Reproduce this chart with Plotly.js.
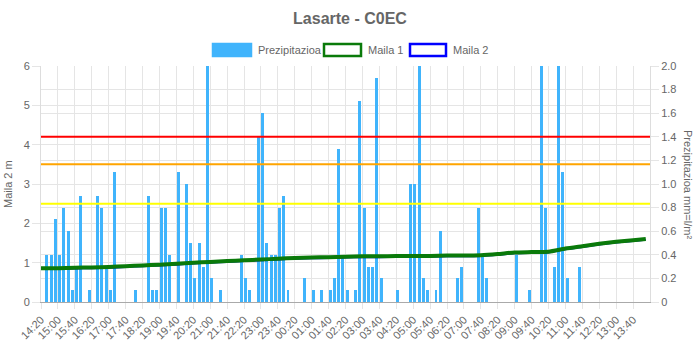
<!DOCTYPE html>
<html>
<head>
<meta charset="utf-8">
<script src="https://cdn.plot.ly/plotly-3.0.1.min.js"></script>
<style>
html,body{margin:0;padding:0;background:#fff;}
#chart{width:700px;height:350px;}
</style>
</head>
<body>
<div id="chart"></div>
<script>
// 10-minute time slots (categories)
const times = [
  "14:20","14:30","14:40","14:50",
  "15:00","15:10","15:20","15:30","15:40","15:50",
  "16:00","16:10","16:20","16:30","16:40","16:50",
  "17:00","17:10","17:20","17:30","17:40","17:50",
  "18:00","18:10","18:20","18:30","18:40","18:50",
  "19:00","19:10","19:20","19:30","19:40","19:50",
  "20:00","20:10","20:20","20:30","20:40","20:50",
  "21:00","21:10","21:20","21:30","21:40","21:50",
  "22:00","22:10","22:20","22:30","22:40","22:50",
  "23:00","23:10","23:20","23:30","23:40","23:50",
  "00:00","00:10","00:20","00:30","00:40","00:50",
  "01:00","01:10","01:20","01:30","01:40","01:50",
  "02:00","02:10","02:20","02:30","02:40","02:50",
  "03:00","03:10","03:20","03:30","03:40","03:50",
  "04:00","04:10","04:20","04:30","04:40","04:50",
  "05:00","05:10","05:20","05:30","05:40","05:50",
  "06:00","06:10","06:20","06:30","06:40","06:50",
  "07:00","07:10","07:20","07:30","07:40","07:50",
  "08:00","08:10","08:20","08:30","08:40","08:50",
  "09:00","09:10","09:20","09:30","09:40","09:50",
  "10:00","10:10","10:20","10:30","10:40","10:50",
  "11:00","11:10","11:20","11:30","11:40","11:50",
  "12:00","12:10","12:20","12:30","12:40","12:50",
  "13:00","13:10","13:20","13:30","13:40","13:50",
  "14:00","14:10"
];

// Prezipitazioa (mm) per slot
const precipitation = [
  0,0.4,0.4,0.7,
  0.4,0.8,0.6,0.1,0.3,0.9,
  0,0.1,0,0.9,0.8,0.3,
  0.1,1.1,0,0,0,0,
  0.1,0,0,0.9,0.1,0.1,
  0.8,0.8,0.4,0,1.1,0,
  1.0,0.5,0.2,0.5,0.3,2.0,
  0.2,0,0.1,0,0,0,
  0,0.4,0.2,0.1,0,1.4,
  1.6,0.5,0.4,0.4,0.8,0.9,
  0.1,0,0,0,0.2,0,
  0.1,0,0.1,0,0.1,0.2,
  1.3,0.4,0.1,0,0.1,1.7,
  0.8,0.3,0.3,1.9,0.2,0,
  0,0,0.1,0,0,1.0,
  1.0,2.0,0.2,0.1,0,0.1,
  0.6,0,0,0,0.2,0.3,
  0,0,0,0.8,0.4,0.2,
  0,0,0,0,0,0,
  0.4,0,0,0.1,0,0,
  2.0,0.8,0,0.3,2.0,1.1,
  0.2,0,0,0.3,0,0,
  0,0,0,0,0,0,
  0,0,0,0,0,0,
  0,0
];

// Water level (m) readings
const mailaTimes = [
  "14:20","15:00","15:40","16:20","17:00","17:40","18:20","19:00","19:40",
  "20:20","21:00","21:40","22:20","23:00","23:40","00:20","01:00","01:40",
  "02:20","03:00","03:40","04:20","05:00","05:40","06:20","07:00","07:40",
  "08:20","09:00","09:40","10:20","11:00","11:40","12:20","13:00","13:40","14:10"
];
const maila1 = [
  0.86,0.86,0.87,0.88,0.89,0.91,0.93,0.95,0.97,
  1.00,1.02,1.04,1.06,1.08,1.10,1.12,1.13,1.14,
  1.15,1.16,1.16,1.17,1.17,1.17,1.18,1.18,1.19,
  1.22,1.26,1.27,1.28,1.36,1.42,1.48,1.53,1.57,1.60
];
const maila2 = [
  0.84,0.84,0.85,0.86,0.87,0.89,0.91,0.93,0.95,
  0.98,1.00,1.02,1.04,1.06,1.08,1.10,1.11,1.12,
  1.13,1.14,1.14,1.15,1.15,1.15,1.16,1.16,1.17,
  1.20,1.24,1.25,1.26,1.34,1.40,1.46,1.51,1.55,1.58
];

const tickLabels = [
  "14:20","15:00","15:40","16:20","17:00","17:40","18:20","19:00","19:40",
  "20:20","21:00","21:40","22:20","23:00","23:40","00:20","01:00","01:40",
  "02:20","03:00","03:40","04:20","05:00","05:40","06:20","07:00","07:40",
  "08:20","09:00","09:40","10:20","11:00","11:40","12:20","13:00","13:40"
];
const precipTicks = [0,0.2,0.4,0.6,0.8,1.0,1.2,1.4,1.6,1.8,2.0];
const precipTickText = ["0","0.2","0.4","0.6","0.8","1.0","1.2","1.4","1.6","1.8","2.0"];

const thresholds = [4.2, 3.5, 2.5];
const thresholdColors = ["#ff0000", "#ffa500", "#ffff00"];

const seriesNames = ["Prezipitazioa", "Maila 1", "Maila 2"];
const barColor = "#40b4fc";

const FONT = "Liberation Sans, Arial, Helvetica, sans-serif";
const GREY = "#666";
const GRID = "#e5e5e5";

const traces = [
  {
    type: "bar", name: seriesNames[0], x: times, y: precipitation,
    xaxis: "x", yaxis: "y",
    marker: {color: barColor, line: {width: 0}},
    offset: 0.05, width: 0.7,
    showlegend: false, hoverinfo: "skip"
  },
  {
    type: "scatter", mode: "lines", name: seriesNames[2], x: mailaTimes, y: maila2,
    xaxis: "x", yaxis: "y2",
    line: {color: "#0000ff", width: 2, shape: "spline", smoothing: 0.6},
    showlegend: false, hoverinfo: "skip"
  },
  {
    type: "scatter", mode: "lines", name: seriesNames[1], x: mailaTimes, y: maila1,
    xaxis: "x", yaxis: "y2",
    line: {color: "#0a7a0a", width: 4, shape: "spline", smoothing: 0.6},
    showlegend: false, hoverinfo: "skip"
  }
];

// plot area in pixels (for legend placement in paper coords)
const L = 41, R = 650, T = 66, B = 302;
const px = v => (v - L) / (R - L);
const py = v => (B - v) / (B - T);

const shapes = thresholds.map((t, i) => ({
  type: "line", xref: "paper", x0: 0, x1: 1, yref: "y2", y0: t, y1: t,
  line: {color: thresholdColors[i], width: 2}, layer: "above"
}));

// custom legend boxes (Chart.js-like)
const legendBoxes = [
  {x0: 213, x1: 251, fill: barColor, line: barColor},
  {x0: 324, x1: 361, fill: "#ffffff", line: "#0a7a0a"},
  {x0: 410, x1: 446, fill: "#ffffff", line: "#0000ff"}
];
legendBoxes.forEach(b => shapes.push({
  type: "rect", xref: "paper", yref: "paper",
  x0: px(b.x0), x1: px(b.x1), y0: py(56), y1: py(44),
  fillcolor: b.fill, line: {color: b.line, width: 2.5}, layer: "above"
}));

const legendTextX = [256, 366, 451];
const annotations = seriesNames.map((n, i) => ({
  xref: "paper", yref: "paper", x: px(legendTextX[i]), y: py(50),
  xanchor: "left", yanchor: "middle", showarrow: false, text: n,
  font: {family: FONT, size: 11, color: GREY}
}));
annotations.push({
  xref: "paper", yref: "paper", x: px(8), y: 0.5, textangle: -90,
  xanchor: "center", yanchor: "middle", showarrow: false, text: "Maila 2 m",
  font: {family: FONT, size: 11, color: GREY}
});
annotations.push({
  xref: "paper", yref: "paper", x: px(688), y: 0.5, textangle: 90,
  xanchor: "center", yanchor: "middle", showarrow: false, text: "Prezipitazioa mm=l/m²",
  font: {family: FONT, size: 11, color: GREY}
});

const layout = {
  width: 700, height: 350,
  margin: {l: L, r: 700 - R, t: T, b: 350 - B, pad: 0},
  paper_bgcolor: "#ffffff", plot_bgcolor: "#ffffff",
  showlegend: false,
  hovermode: false,
  bargap: 0,
  title: {
    text: "<b>Lasarte - C0EC</b>",
    font: {family: FONT, size: 16, color: GREY},
    xref: "container", x: 0.5, xanchor: "center",
    yref: "container", y: 1 - 18 / 350, yanchor: "middle"
  },
  xaxis: {
    type: "category", categoryorder: "array", categoryarray: times,
    range: [0, 144],
    tickmode: "array", tickvals: tickLabels, ticktext: tickLabels,
    tickangle: -45,
    tickfont: {family: FONT, size: 11, color: GREY},
    showgrid: true, gridcolor: GRID, gridwidth: 1,
    ticks: "outside", ticklen: 6, tickcolor: GRID,
    showline: true, linecolor: "#aaaaaa", linewidth: 1,
    zeroline: false, fixedrange: true
  },
  yaxis: {
    side: "right", range: [0, 2],
    tickmode: "array", tickvals: precipTicks, ticktext: precipTickText,
    tickfont: {family: FONT, size: 11, color: GREY},
    showgrid: true, gridcolor: GRID, gridwidth: 1,
    ticks: "outside", ticklen: 8, tickcolor: GRID,
    showline: true, linecolor: "#dddddd", linewidth: 1,
    zeroline: false, fixedrange: true
  },
  yaxis2: {
    overlaying: "y", side: "left", range: [0, 6], dtick: 1, tick0: 0,
    tickfont: {family: FONT, size: 11, color: GREY},
    showgrid: true, gridcolor: GRID, gridwidth: 1,
    ticks: "outside", ticklen: 8, tickcolor: GRID,
    showline: true, linecolor: "#dddddd", linewidth: 1,
    zeroline: false, fixedrange: true
  },
  shapes: shapes,
  annotations: annotations
};

Plotly.newPlot("chart", traces, layout, {displayModeBar: false, staticPlot: true});
</script>
</body>
</html>
